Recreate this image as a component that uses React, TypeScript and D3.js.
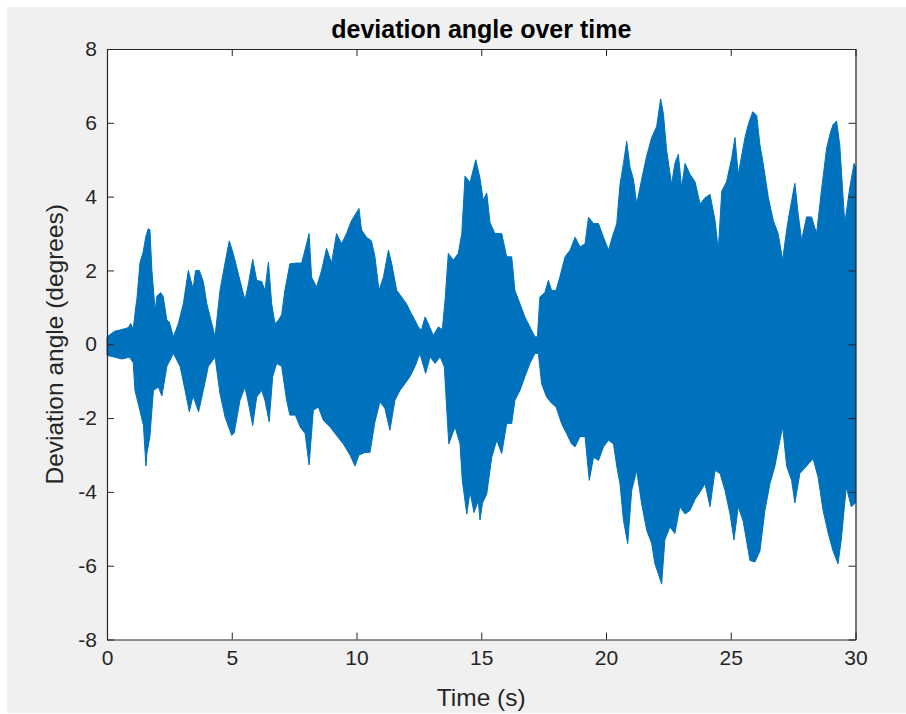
import React, { useRef, useEffect } from "react";
import { select, axisBottom, axisLeft, axisTop, axisRight, scaleLinear, line } from "d3";

const title = "deviation angle over time";
const xLabel = "Time (s)";
const yLabel = "Deviation angle (degrees)";
const xTicks = [0, 5, 10, 15, 20, 25, 30];
const yTicks = [-8, -6, -4, -2, 0, 2, 4, 6, 8];

// upper edge of the oscillating signal, [time s, degrees]
const upperEnvelope: [number, number][] = [
  [0, 0.2], [0.3, 0.35], [0.6, 0.4], [0.85, 0.45], [0.95, 0.56], [1.05, 0.4], [1.15, 1.0], [1.2, 1.24],
  [1.32, 2.2], [1.45, 2.5], [1.55, 2.9], [1.65, 3.13], [1.72, 3.1], [1.8, 2.0], [1.93, 0.9], [2.0, 1.3],
  [2.15, 1.4], [2.25, 1.3], [2.4, 0.65], [2.5, 0.6], [2.66, 0.2], [2.86, 0.56], [3.06, 1.1], [3.26, 2.0],
  [3.45, 1.5], [3.55, 2.0], [3.7, 2.0], [3.86, 1.7], [4.0, 1.1], [4.2, 0.56], [4.33, 0.2], [4.53, 1.46],
  [4.73, 2.2], [4.9, 2.8], [5.06, 2.46], [5.33, 1.73], [5.53, 1.2], [5.67, 1.64], [5.84, 2.3], [6.0, 1.73],
  [6.2, 1.7], [6.33, 1.46], [6.47, 2.23], [6.6, 1.1], [6.73, 0.56], [6.87, 0.65], [7.0, 0.8], [7.13, 1.46],
  [7.33, 2.18], [7.6, 2.2], [7.8, 2.2], [8.0, 2.72], [8.1, 3.0], [8.2, 1.82], [8.4, 1.55], [8.6, 2.0],
  [8.8, 2.6], [9.0, 2.2], [9.2, 3.0], [9.4, 2.72], [9.6, 3.0], [9.8, 3.35], [10.1, 3.68], [10.2, 3.1],
  [10.4, 2.9], [10.6, 2.8], [10.74, 2.37], [10.9, 1.46], [11.08, 1.82], [11.28, 2.55], [11.41, 2.19], [11.61, 1.46],
  [11.81, 1.28], [12.0, 1.1], [12.2, 0.83], [12.48, 0.47], [12.6, 0.38], [12.75, 0.74], [12.88, 0.55], [13.08, 0.24],
  [13.28, 0.47], [13.44, 0.4], [13.55, 1.19], [13.68, 2.46], [13.88, 2.28], [14.08, 2.46], [14.22, 3.0], [14.35, 4.56],
  [14.55, 4.38], [14.78, 5.0], [14.95, 4.5], [15.08, 3.9], [15.22, 4.1], [15.35, 3.3], [15.55, 3.0], [15.82, 3.0],
  [16.02, 2.37], [16.22, 2.37], [16.35, 1.46], [16.55, 1.1], [16.75, 0.74], [16.95, 0.47], [17.15, 0.2], [17.25, 0.2],
  [17.35, 1.28], [17.55, 1.4], [17.69, 1.73], [17.82, 1.46], [18.0, 1.46], [18.15, 1.82], [18.36, 2.37], [18.56, 2.55],
  [18.76, 2.9], [18.96, 2.64], [19.16, 2.72], [19.3, 3.44], [19.5, 3.27], [19.7, 3.27], [19.9, 2.9], [20.1, 2.55],
  [20.25, 2.9], [20.43, 3.27], [20.56, 4.33], [20.7, 4.9], [20.83, 5.5], [20.96, 4.8], [21.1, 4.47], [21.23, 3.8],
  [21.43, 4.47], [21.63, 5.1], [21.83, 5.6], [22.03, 5.9], [22.19, 6.65], [22.3, 6.25], [22.43, 5.25], [22.63, 4.33],
  [22.76, 4.9], [22.9, 5.15], [23.03, 4.24], [23.17, 4.9], [23.37, 4.6], [23.57, 4.4], [23.77, 3.8], [23.97, 3.97],
  [24.17, 4.06], [24.37, 3.36], [24.5, 2.55], [24.64, 4.15], [24.83, 4.4], [25.04, 5.05], [25.17, 5.6], [25.3, 4.6],
  [25.57, 5.6], [25.7, 5.95], [25.88, 6.3], [26.04, 6.2], [26.17, 5.4], [26.3, 4.9], [26.5, 4.0], [26.7, 3.36],
  [26.9, 3.0], [27.08, 2.28], [27.24, 3.1], [27.37, 3.63], [27.57, 4.36], [27.7, 3.54], [27.84, 2.82], [28.04, 3.45],
  [28.24, 3.45], [28.44, 3.0], [28.64, 4.2], [28.84, 5.3], [28.98, 5.7], [29.1, 5.95], [29.24, 6.05], [29.37, 5.4],
  [29.57, 3.27], [29.77, 4.24], [29.94, 4.9], [30, 4.8],
];

// lower edge of the oscillating signal, [time s, degrees]
const lowerEnvelope: [number, number][] = [
  [0, -0.3], [0.3, -0.35], [0.6, -0.4], [0.9, -0.35], [1.05, -0.5], [1.12, -1.25], [1.32, -1.8], [1.46, -2.2],
  [1.56, -3.3], [1.6, -2.96], [1.72, -2.5], [1.86, -1.25], [2.06, -1.16], [2.2, -1.4], [2.4, -0.6], [2.66, -0.25],
  [2.93, -0.6], [3.13, -1.25], [3.3, -1.83], [3.45, -1.4], [3.67, -1.83], [3.86, -1.25], [4.06, -0.6], [4.33, -0.35],
  [4.53, -1.34], [4.73, -1.97], [5.0, -2.47], [5.1, -2.4], [5.33, -1.52], [5.53, -1.16], [5.67, -1.6], [5.84, -2.2],
  [6.0, -1.43], [6.2, -1.25], [6.33, -1.52], [6.5, -2.1], [6.64, -0.88], [6.8, -0.52], [7.0, -0.6], [7.2, -1.52],
  [7.33, -1.92], [7.55, -1.92], [7.74, -2.24], [7.94, -2.42], [8.1, -3.27], [8.27, -1.79], [8.47, -1.7], [8.67, -2.06],
  [8.94, -2.24], [9.2, -2.47], [9.47, -2.7], [9.74, -3.0], [9.94, -3.3], [10.1, -3.0], [10.34, -2.93], [10.54, -2.93],
  [10.74, -2.1], [10.94, -1.56], [11.14, -1.74], [11.34, -2.33], [11.54, -1.52], [11.74, -1.25], [11.94, -1.07], [12.14, -0.88],
  [12.34, -0.61], [12.54, -0.25], [12.77, -0.79], [12.95, -0.34], [13.15, -0.52], [13.35, -0.34], [13.52, -0.61], [13.65, -2.15],
  [13.7, -2.7], [13.95, -2.24], [14.15, -2.7], [14.24, -3.69], [14.42, -4.6], [14.55, -4.0], [14.71, -4.56], [14.88, -4.24],
  [14.95, -4.76], [15.05, -4.3], [15.22, -4.06], [15.42, -3.06], [15.62, -2.6], [15.82, -2.96], [16.02, -2.15], [16.22, -2.15],
  [16.35, -1.52], [16.55, -1.25], [16.75, -0.88], [16.95, -0.52], [17.15, -0.25], [17.29, -0.25], [17.42, -1.07], [17.62, -1.43],
  [17.82, -1.6], [18.0, -1.7], [18.22, -2.15], [18.42, -2.42], [18.62, -2.7], [18.76, -2.78], [18.96, -2.5], [19.16, -2.5],
  [19.33, -3.69], [19.5, -3.06], [19.7, -3.15], [19.9, -2.78], [20.1, -2.6], [20.3, -2.7], [20.43, -3.3], [20.56, -3.78],
  [20.7, -4.77], [20.87, -5.4], [21.03, -3.96], [21.23, -3.42], [21.43, -4.33], [21.63, -5.04], [21.83, -5.4], [21.96, -5.95],
  [22.1, -6.22], [22.23, -6.5], [22.36, -5.3], [22.56, -4.95], [22.76, -5.13], [22.96, -4.4], [23.17, -4.6], [23.37, -4.5],
  [23.57, -4.2], [23.77, -4.0], [23.97, -3.78], [24.17, -4.4], [24.37, -3.42], [24.57, -3.5], [24.77, -3.96], [24.97, -4.6],
  [25.13, -5.3], [25.3, -4.4], [25.5, -4.8], [25.77, -5.86], [25.97, -5.9], [26.17, -5.6], [26.37, -4.5], [26.57, -3.78],
  [26.77, -3.3], [26.97, -2.6], [27.08, -2.24], [27.24, -3.3], [27.44, -3.69], [27.57, -4.3], [27.77, -3.5], [28.04, -3.3],
  [28.3, -3.1], [28.5, -3.6], [28.7, -4.5], [28.9, -5.1], [29.1, -5.6], [29.3, -5.95], [29.43, -5.3], [29.63, -3.87],
  [29.83, -4.4], [30, -4.3],
];

const FONT = "'Liberation Sans', Arial, Helvetica, sans-serif";
const INK = "#262626";

const App = () => {
  const svgRef = useRef<SVGSVGElement>(null);

  useEffect(() => {
    const svg = select(svgRef.current);
    svg.selectAll("*").remove();

    const xScale = scaleLinear().domain([0, 30]).range([107, 855.5]);
    const yScale = scaleLinear().domain([-8, 8]).range([639.5, 49]);

    // figure background + axes area
    svg.append("rect").attr("x", 7).attr("y", 7).attr("width", 899).attr("height", 706).attr("fill", "#f0f0f0");
    svg.append("rect")
      .attr("x", xScale(0)).attr("y", yScale(8))
      .attr("width", xScale(30) - xScale(0)).attr("height", yScale(-8) - yScale(8))
      .attr("fill", "#ffffff");

    // signal band: upper edge forward, lower edge back
    const outline = [...upperEnvelope, ...lowerEnvelope.slice().reverse()];
    const path = line<[number, number]>().x(d => xScale(d[0])).y(d => yScale(d[1]));
    svg.append("path")
      .attr("d", path(outline) + "Z")
      .attr("fill", "#0072bd")
      .attr("stroke", "#0072bd")
      .attr("stroke-width", 1)
      .attr("stroke-linejoin", "round");

    const styleAxis = (g: any) => {
      g.attr("font-family", FONT).attr("font-size", 21).attr("color", INK);
      g.select(".domain").attr("stroke-width", 1.2);
    };
    const fmt = (d: any) => String(d); // plain hyphen minus like MATLAB

    svg.append("g")
      .attr("transform", `translate(0,${yScale(-8)})`)
      .call(axisBottom(xScale).tickValues(xTicks).tickFormat(fmt).tickSizeInner(-7).tickSizeOuter(0).tickPadding(11))
      .call(styleAxis);
    svg.append("g")
      .attr("transform", `translate(0,${yScale(8)})`)
      .call(axisTop(xScale).tickValues(xTicks).tickSizeInner(-7).tickSizeOuter(0).tickFormat(() => ""))
      .call(styleAxis);
    svg.append("g")
      .attr("transform", `translate(${xScale(0)},0)`)
      .call(axisLeft(yScale).tickValues(yTicks).tickFormat(fmt).tickSizeInner(-7).tickSizeOuter(0).tickPadding(10))
      .call(styleAxis);
    svg.append("g")
      .attr("transform", `translate(${xScale(30)},0)`)
      .call(axisRight(yScale).tickValues(yTicks).tickSizeInner(-7).tickSizeOuter(0).tickFormat(() => ""))
      .call(styleAxis);

    svg.append("text")
      .attr("x", (xScale(0) + xScale(30)) / 2).attr("y", 38)
      .attr("text-anchor", "middle")
      .attr("font-family", FONT).attr("font-size", 25).attr("font-weight", "bold")
      .attr("fill", "#000")
      .text(title);

    svg.append("text")
      .attr("x", (xScale(0) + xScale(30)) / 2).attr("y", 706)
      .attr("text-anchor", "middle")
      .attr("font-family", FONT).attr("font-size", 24.5)
      .attr("fill", INK)
      .text(xLabel);

    svg.append("text")
      .attr("transform", `translate(63,${yScale(0)}) rotate(-90)`)
      .attr("text-anchor", "middle")
      .attr("font-family", FONT).attr("font-size", 24.5)
      .attr("fill", INK)
      .text(yLabel);
  }, []);

  return (
    <svg ref={svgRef} width={906} height={714} style={{ position: "absolute", left: 0, top: 0, background: "#fff" }} />
  );
};

export default App;
